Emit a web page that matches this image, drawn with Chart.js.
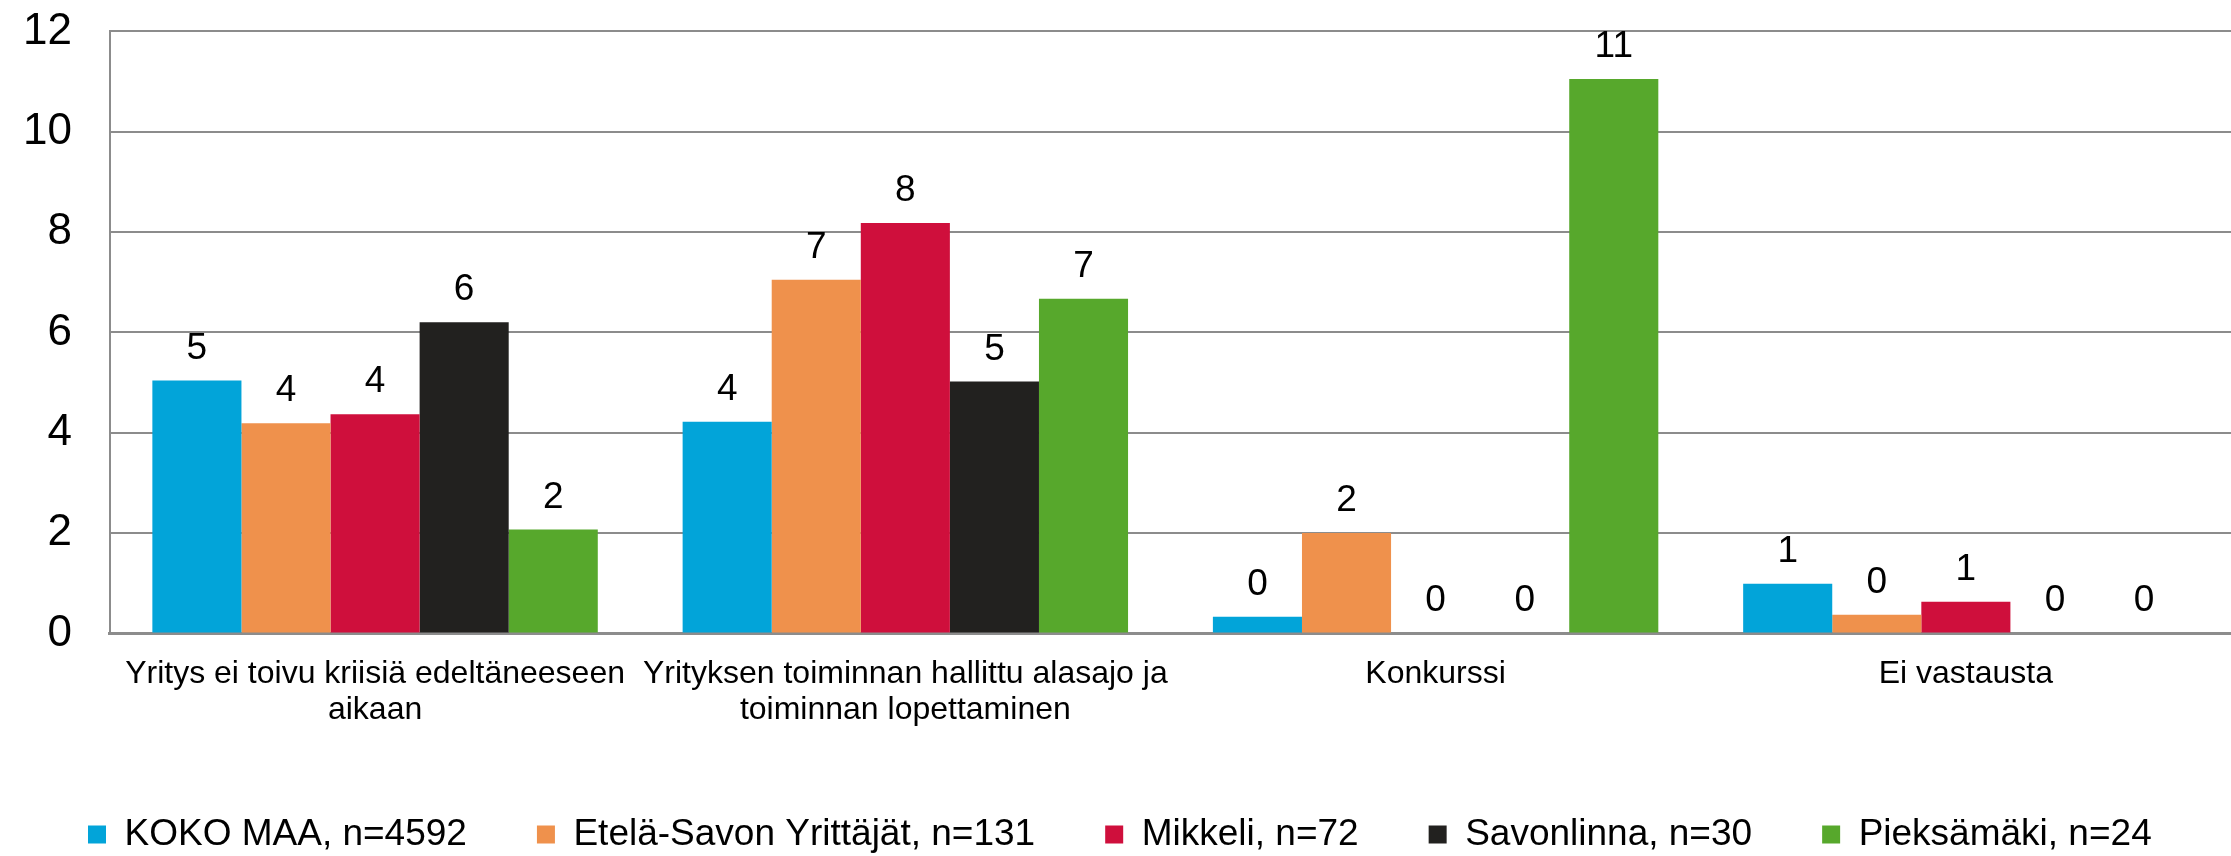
<!DOCTYPE html>
<html>
<head>
<meta charset="utf-8">
<script src="https://cdn.jsdelivr.net/npm/chart.js@4/dist/chart.umd.min.js"></script>
<style>
  html, body { margin: 0; padding: 0; background: #fff; }
  #wrap { width: 2231px; height: 856px; position: relative; }
</style>
</head>
<body>
<div id="wrap"><canvas id="chart"></canvas></div>
<script>
'use strict';
/*------------------------------------*\
     Données
\*------------------------------------*/
var categories = [
  ['Yritys ei toivu kriisiä edeltäneeseen', 'aikaan'],
  ['Yrityksen toiminnan hallittu alasajo ja', 'toiminnan lopettaminen'],
  'Konkurssi',
  'Ei vastausta'
];
var seriesNames = ['KOKO MAA, n=4592', 'Etelä-Savon Yrittäjät, n=131', 'Mikkeli, n=72', 'Savonlinna, n=30', 'Pieksämäki, n=24'];
var kokoMaa = [5.04, 4.22, 0.33, 0.99];
var etelaSavo = [4.19, 7.05, 2.0, 0.37];
var mikkeli = [4.37, 8.18, 0, 0.63];
var savonlinna = [6.2, 5.02, 0, 0];
var pieksamaki = [2.07, 6.67, 11.05, 0];
var yTicks = [0, 2, 4, 6, 8, 10, 12];
var colors = ['#02A4D9', '#EF914C', '#CF0F3C', '#22211F', '#57A82C'];

var FONT = '"Liberation Sans", Arial, sans-serif';
var GRID = '#8c8c8c';

/*------------------------------------*\
     Etiquettes de valeurs au-dessus des barres
\*------------------------------------*/
var valueLabels = {
  id: 'valueLabels',
  afterDatasetsDraw: function(chart) {
    var ctx = chart.ctx;
    ctx.save();
    ctx.font = '37px ' + FONT;
    ctx.fillStyle = '#000';
    ctx.textAlign = 'center';
    ctx.textBaseline = 'alphabetic';
    chart.data.datasets.forEach(function(ds, i) {
      chart.getDatasetMeta(i).data.forEach(function(bar, j) {
        ctx.fillText(String(Math.round(ds.data[j])), bar.x, bar.y - 22);
      });
    });
    ctx.restore();
  }
};

var allSeries = [kokoMaa, etelaSavo, mikkeli, savonlinna, pieksamaki];
var datasets = allSeries.map(function(values, i) {
  return {
    label: seriesNames[i],
    data: values,
    backgroundColor: colors[i],
    borderWidth: 0,
    categoryPercentage: 0.84,
    barPercentage: 1.0
  };
});

new Chart(document.getElementById('chart').getContext('2d'), {
  type: 'bar',
  data: { labels: categories, datasets: datasets },
  plugins: [valueLabels],
  options: {
    responsive: true,
    maintainAspectRatio: false,
    animation: false,
    layout: { padding: { top: 0, right: 0, left: 18, bottom: -7 } },
    plugins: {
      tooltip: { enabled: false },
      legend: {
        position: 'bottom',
        align: 'start',
        labels: {
          color: '#000',
          font: { family: FONT, size: 37 },
          boxWidth: 18,
          boxHeight: 18,
          padding: 70
        }
      }
    },
    scales: {
      x: {
        grid: { display: false, drawTicks: false },
        border: { display: true, color: GRID, width: 3 },
        ticks: {
          color: '#000',
          font: { family: FONT, size: 32, lineHeight: 1.15 },
          padding: 22,
          maxRotation: 0,
          autoSkip: false
        },
        afterFit: function(scale) {
          scale.paddingLeft = 0;
          scale.paddingRight = 0;
          scale.height -= 5;
        }
      },
      y: {
        min: 0,
        max: 12,
        afterBuildTicks: function(axis) {
          axis.ticks = yTicks.map(function(v) { return { value: v }; });
        },
        grid: { color: GRID, lineWidth: 2, drawTicks: true, tickLength: 33, tickColor: 'rgba(0,0,0,0)' },
        border: { display: true, color: GRID, width: 2 },
        ticks: {
          color: '#000',
          font: { family: FONT, size: 44 },
          padding: 5
        }
      }
    }
  }
});
</script>
</body>
</html>
